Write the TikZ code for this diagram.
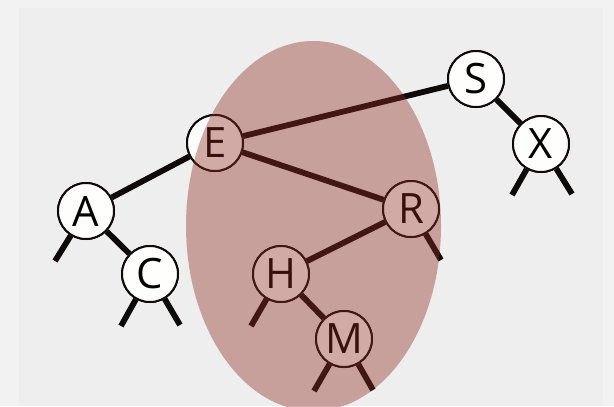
\documentclass[tikz,border=0pt]{standalone}
\usepackage{fontspec}
\setmainfont{Open Sans}
\definecolor{outerbg}{RGB}{242,242,242}
\definecolor{innerbg}{RGB}{238,238,238}
\definecolor{nodefill}{RGB}{254,254,252}
\definecolor{linkcol}{RGB}{14,10,10}
\definecolor{blobcol}{RGB}{142,43,35}
\tikzset{
  bst/.style={circle,draw=linkcol,line width=2bp,fill=nodefill,minimum size=56bp,inner sep=0pt,font=\fontsize{42}{42}\selectfont},
  link/.style={draw=linkcol,line width=5.8bp},
}
\begin{document}
\begin{tikzpicture}[x=1bp,y=-1bp]
\useasboundingbox (0,0) rectangle (614,406);
\fill[outerbg] (0,0) rectangle (614,406);
\fill[innerbg] (19,8) rectangle (603,406);
% node positions
\node[bst] (S) at (476,79) {S};
\node[bst] (X) at (541,144) {X};
\node[bst] (E) at (215,143) {E};
\node[bst] (A) at (86,211) {A};
\node[bst] (C) at (150,274) {C};
\node[bst] (R) at (411,209) {R};
\node[bst] (H) at (281,274) {H};
\node[bst] (M) at (344,339) {M};
% stub ends
\coordinate (Al) at (55,261);
\coordinate (Cl) at (121,326);
\coordinate (Cr) at (180,325);
\coordinate (Xl) at (512,195);
\coordinate (Xr) at (572,194);
\coordinate (Hl) at (251,326);
\coordinate (Ml) at (314,391);
\coordinate (Mr) at (373,390);
\coordinate (Rr) at (441,260);
% edges (drawn, then nodes redrawn on top)
\path[link] (E) -- (S) (E) -- (A) (E) -- (R) (R) -- (H) (H) -- (M) (A) -- (C) (S) -- (X)
  (A) -- (Al) (C) -- (Cl) (C) -- (Cr) (X) -- (Xl) (X) -- (Xr) (H) -- (Hl) (M) -- (Ml) (M) -- (Mr) (R) -- (Rr);
\foreach \n/\t in {S/S,X/X,E/E,A/A,C/C,R/R,H/H,M/M}{
  \node[bst] at (\n.center) {\t};
}
% highlighted subtree
\fill[blobcol,opacity=0.4] (313.5,226) ellipse [x radius=127.5, y radius=185];
\end{tikzpicture}
\end{document}
